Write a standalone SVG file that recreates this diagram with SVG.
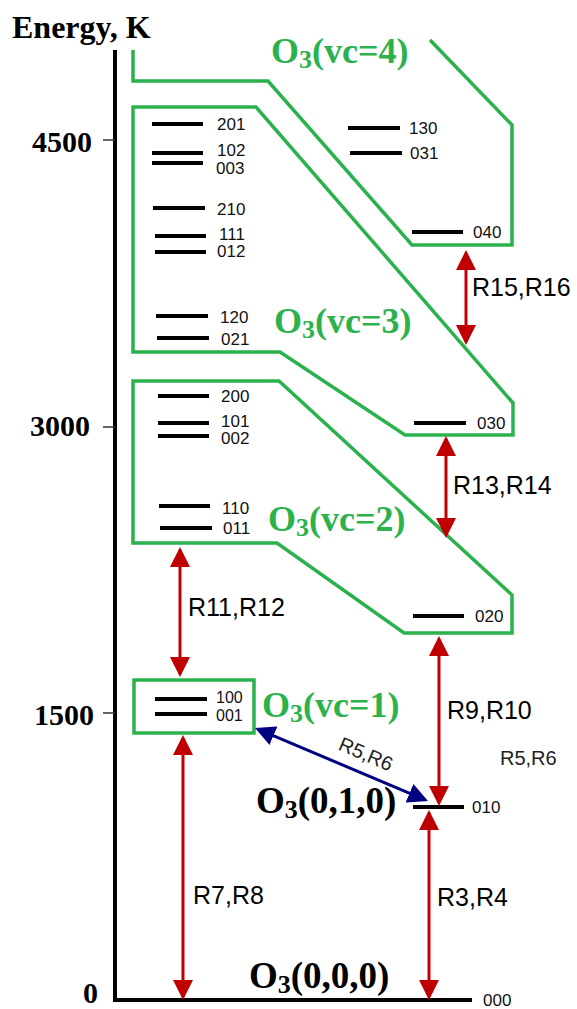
<svg xmlns="http://www.w3.org/2000/svg" width="577" height="1009" viewBox="0 0 577 1009">
<style>
.axis{stroke:#000;stroke-width:4;fill:none}
.tick{stroke:#333;stroke-width:1.5}
.ticklbl{font-family:"Liberation Serif",serif;font-weight:bold;font-size:30px;fill:#000;text-anchor:end}
.grp{fill:none;stroke:#2bb24c;stroke-width:3.5;stroke-linejoin:miter}
.glbl{font-family:"Liberation Serif",serif;font-weight:bold;font-size:36px;fill:#2bb24c}
.blbl{font-family:"Liberation Serif",serif;font-weight:bold;font-size:37px;fill:#000}
.lvl{stroke:#000;stroke-width:4}
.lt{font-family:"Liberation Sans",Arial,sans-serif;font-size:17px;fill:#111}
.lts{font-family:"Liberation Sans",Arial,sans-serif;font-size:16px;fill:#111}
.red{stroke:#c00000;stroke-width:3;fill:none;marker-start:url(#hr);marker-end:url(#hr)}
.blue{stroke:#000080;stroke-width:3;fill:none;marker-start:url(#hb);marker-end:url(#hb)}
.rl{font-family:"Liberation Sans",Arial,sans-serif;font-size:25px;fill:#000}
.rs{font-family:"Liberation Sans",Arial,sans-serif;font-size:20px;fill:#222}
</style>
<defs>
<marker id="hr" viewBox="0 0 20 20" refX="17" refY="10" markerWidth="20" markerHeight="20" markerUnits="userSpaceOnUse" orient="auto-start-reverse"><path d="M0,0 L20,10 L0,20 Z" fill="#c00000"/></marker>
<marker id="hb" viewBox="0 0 20 20" refX="17" refY="10" markerWidth="20" markerHeight="20" markerUnits="userSpaceOnUse" orient="auto-start-reverse"><path d="M0,0 L20,10 L0,20 Z" fill="#000080"/></marker>
</defs>

<g id="axis">
<text x="12" y="38" font-family="Liberation Serif,serif" font-weight="bold" font-size="32">Energy, K</text>
<path class="axis" d="M115,50 L115,1000 L472,1000"/>
<line class="tick" x1="103" y1="140" x2="115" y2="140"/>
<line class="tick" x1="103" y1="427" x2="115" y2="427"/>
<line class="tick" x1="103" y1="713" x2="115" y2="713"/>
<text class="ticklbl" x="92" y="152">4500</text>
<text class="ticklbl" x="90" y="436">3000</text>
<text class="ticklbl" x="94" y="725">1500</text>
<text class="ticklbl" x="98" y="1003">0</text>
</g>

<g id="vc4">
<path class="grp" d="M133,50 L133,81 L268,81 L412,245 L512,245 L512,125 L430,40"/>
<text class="glbl" x="271" y="63">O<tspan font-size="26" dy="5">3</tspan><tspan dy="-5">(vc=4)</tspan></text>
<line class="lvl" x1="348" y1="128" x2="400" y2="128"/>
<text class="lt" x="409" y="134">130</text>
<line class="lvl" x1="350" y1="153" x2="402" y2="153"/>
<text class="lt" x="410" y="159">031</text>
<line class="lvl" x1="412" y1="232" x2="463" y2="232"/>
<text class="lt" x="473" y="238">040</text>
</g>

<g id="vc3">
<path class="grp" d="M133,107 L256,107 L513,403 L513,435 L405,435 L280,352 L133,352 Z"/>
<text class="glbl" x="274" y="333">O<tspan font-size="26" dy="5">3</tspan><tspan dy="-5">(vc=3)</tspan></text>
<line class="lvl" x1="152" y1="124" x2="203" y2="124"/>
<text class="lt" x="217" y="130">201</text>
<line class="lvl" x1="152" y1="153" x2="203" y2="153"/>
<text class="lt" x="217" y="156">102</text>
<line class="lvl" x1="152" y1="163" x2="203" y2="163"/>
<text class="lt" x="216" y="174">003</text>
<line class="lvl" x1="153" y1="208" x2="205" y2="208"/>
<text class="lt" x="217" y="215">210</text>
<line class="lvl" x1="155" y1="236" x2="206" y2="236"/>
<text class="lt" x="219" y="240">111</text>
<line class="lvl" x1="155" y1="252" x2="206" y2="252"/>
<text class="lt" x="217" y="257">012</text>
<line class="lvl" x1="156" y1="316" x2="208" y2="316"/>
<text class="lt" x="220" y="323">120</text>
<line class="lvl" x1="157" y1="338" x2="209" y2="338"/>
<text class="lt" x="221" y="345">021</text>
<line class="lvl" x1="414" y1="423" x2="466" y2="423"/>
<text class="lt" x="477" y="429">030</text>
</g>

<g id="vc2">
<path class="grp" d="M133,381 L279,381 L512,595 L512,633 L404,633 L277,543 L133,543 Z"/>
<text class="glbl" x="268" y="531">O<tspan font-size="26" dy="5">3</tspan><tspan dy="-5">(vc=2)</tspan></text>
<line class="lvl" x1="158" y1="396" x2="209" y2="396"/>
<text class="lt" x="221" y="402">200</text>
<line class="lvl" x1="158" y1="423" x2="209" y2="423"/>
<text class="lt" x="221" y="427">101</text>
<line class="lvl" x1="158" y1="436" x2="209" y2="436"/>
<text class="lt" x="221" y="444">002</text>
<line class="lvl" x1="159" y1="506" x2="210" y2="506"/>
<text class="lt" x="222" y="514">110</text>
<line class="lvl" x1="160" y1="528" x2="212" y2="528"/>
<text class="lt" x="223" y="534">011</text>
<line class="lvl" x1="413" y1="616" x2="464" y2="616"/>
<text class="lt" x="475" y="622">020</text>
</g>

<g id="vc1">
<rect class="grp" x="134" y="680" width="120" height="53"/>
<text class="glbl" x="262" y="717">O<tspan font-size="26" dy="5">3</tspan><tspan dy="-5">(vc=1)</tspan></text>
<line class="lvl" x1="155" y1="699" x2="207" y2="699"/>
<text class="lts" x="216" y="703">100</text>
<line class="lvl" x1="155" y1="714" x2="207" y2="714"/>
<text class="lts" x="216" y="721">001</text>
</g>

<g id="v010">
<line class="lvl" x1="413" y1="807" x2="464" y2="807"/>
<text class="lt" x="472" y="813">010</text>
<text class="blbl" x="256" y="813">O<tspan font-size="26" dy="5">3</tspan><tspan dy="-5">(0,1,0)</tspan></text>
</g>

<g id="v000">
<text class="lt" x="483" y="1006">000</text>
<text class="blbl" x="249" y="988">O<tspan font-size="26" dy="5">3</tspan><tspan dy="-5">(0,0,0)</tspan></text>
</g>

<g id="connectors">
<line class="red" x1="466" y1="253" x2="466" y2="342"/>
<text class="rl" x="472" y="296">R15,R16</text>
<line class="red" x1="446" y1="439" x2="446" y2="535"/>
<text class="rl" x="453" y="494">R13,R14</text>
<line class="red" x1="180" y1="550" x2="180" y2="674"/>
<text class="rl" x="188" y="616">R11,R12</text>
<line class="red" x1="439" y1="639" x2="439" y2="803"/>
<text class="rl" x="447" y="719">R9,R10</text>
<line class="red" x1="183" y1="738" x2="183" y2="997"/>
<text class="rl" x="193" y="904">R7,R8</text>
<line class="red" x1="429" y1="813" x2="429" y2="997"/>
<text class="rl" x="437" y="906">R3,R4</text>
<line class="blue" x1="257.8" y1="729.2" x2="425.2" y2="799.8"/>
<text class="rs" x="366" y="761" text-anchor="middle" transform="rotate(23 366 754)">R5,R6</text>
<text class="rs" x="500" y="765">R5,R6</text>
</g>
</svg>
